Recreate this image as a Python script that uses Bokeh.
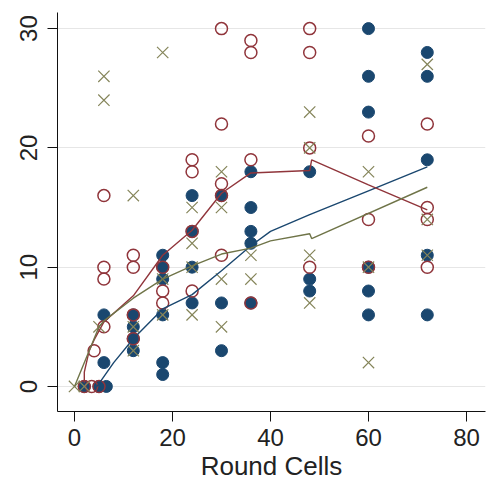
from bokeh.plotting import figure
from bokeh.models import Range1d, FixedTicker
from bokeh.embed import file_html
from bokeh.resources import INLINE

# ---- data ----
navy_x = [2, 5, 6.5, 6, 6, 12, 12, 12, 12, 18, 18, 18, 18, 18, 18, 24, 24, 24, 24,
          30, 30, 30, 36, 36, 36, 36, 36, 48, 48, 48, 60, 60, 60, 60, 60, 60,
          72, 72, 72, 72, 72]
navy_y = [0, 0, 0, 6, 2, 6, 5, 4, 3, 11, 10, 9, 6, 2, 1, 16, 13, 10, 7,
          16, 7, 3, 18, 15, 13, 12, 7, 18, 9, 8, 30, 26, 23, 10, 8, 6,
          28, 26, 19, 11, 6]

maroon_x = [2, 3.5, 5, 4, 6, 6, 6, 6, 12, 12, 12, 12, 18, 18, 18, 24, 24, 24, 24,
            30, 30, 30, 30, 30, 36, 36, 36, 36, 48, 48, 48, 48, 60, 60, 60,
            72, 72, 72, 72]
maroon_y = [0, 0, 0, 3, 5, 9, 10, 16, 11, 10, 6, 4, 10, 8, 7, 19, 18, 13, 8,
            30, 22, 17, 16, 11, 29, 28, 19, 7, 30, 28, 20, 10, 21, 14, 10,
            22, 15, 14, 10]

olive_x = [0, 2, 5, 6, 6, 12, 12, 12, 18, 18, 18, 24, 24, 24, 24, 30, 30, 30, 30,
           36, 36, 48, 48, 48, 48, 60, 60, 60, 72, 72, 72]
olive_y = [0, 0, 5, 26, 24, 16, 5, 3, 28, 9, 6, 15, 12, 10, 6, 18, 15, 9, 5,
           11, 9, 23, 20, 11, 7, 18, 10, 2, 27, 14, 11]

# smoothed (lowess) curves
navy_fit_x = [4.6, 8, 12, 18, 24, 30, 36, 40, 48, 60, 72]
navy_fit_y = [0.0, 2.0, 4.0, 6.5, 7.7, 9.7, 11.8, 13.0, 14.4, 16.4, 18.4]

maroon_fit_x = [2, 2, 3, 4, 6, 12, 18, 24, 30, 36, 48, 48.4, 60, 72]
maroon_fit_y = [0.3, 1.2, 3.0, 3.9, 5.4, 7.6, 11.0, 13.1, 16.2, 17.9, 18.1, 19.0, 16.9, 14.8]

olive_fit_x = [0, 3, 5, 6, 12, 18, 24, 30, 36, 40, 48, 48.4, 72]
olive_fit_y = [0.0, 3.0, 5.0, 5.5, 7.4, 9.0, 10.1, 11.1, 11.6, 12.2, 12.8, 12.4, 16.7]

x_ticks = [0, 20, 40, 60, 80]
y_ticks = [0, 10, 20, 30]
x_title = "Round Cells"

NAVY = "#1a476f"
MAROON = "#90353b"
OLIVE = "#85855a"
FONT = "Liberation Sans"

p = figure(width=487, height=487, output_backend="svg", toolbar_location=None,
           x_range=Range1d(-3.47, 83.88), y_range=Range1d(-2.1, 31.35),
           min_border_left=57, min_border_right=2, min_border_top=12,
           min_border_bottom=76)

p.outline_line_color = None
p.background_fill_color = "white"
p.border_fill_color = "white"

p.xgrid.grid_line_color = None
p.ygrid.grid_line_color = "#e6e6e6"
p.ygrid.grid_line_width = 1

p.xaxis.ticker = FixedTicker(ticks=x_ticks)
p.yaxis.ticker = FixedTicker(ticks=y_ticks)
for ax in (p.xaxis[0], p.yaxis[0]):
    ax.minor_tick_line_color = None
    ax.major_tick_in = 0
    ax.major_tick_out = 10
    ax.axis_line_color = "#111111"
    ax.major_tick_line_color = "#111111"
    ax.major_label_text_font = FONT
    ax.major_label_text_font_size = "24px"
    ax.major_label_text_color = "#222222"

p.xaxis.major_label_standoff = 7
p.yaxis.major_label_standoff = 10
p.yaxis.major_label_orientation = "vertical"
p.xaxis.axis_label = x_title
p.xaxis.axis_label_text_font = FONT
p.xaxis.axis_label_text_font_size = "26px"
p.xaxis.axis_label_text_font_style = "normal"
p.xaxis.axis_label_text_color = "#222222"
p.xaxis.axis_label_standoff = 2

p.scatter(navy_x, navy_y, marker="circle", size=12, fill_color=NAVY, line_color=NAVY)
p.scatter(maroon_x, maroon_y, marker="circle", size=12, fill_color=None,
          line_color=MAROON, line_width=1.5)
p.scatter(olive_x, olive_y, marker="x", size=16, line_color=OLIVE, line_width=1.2)

p.line(navy_fit_x, navy_fit_y, line_color=NAVY, line_width=1.4)
p.line(maroon_fit_x, maroon_fit_y, line_color=MAROON, line_width=1.4)
p.line(olive_fit_x, olive_fit_y, line_color="#6f7448", line_width=1.4)

open("out.html", "w").write(file_html(p, INLINE))
